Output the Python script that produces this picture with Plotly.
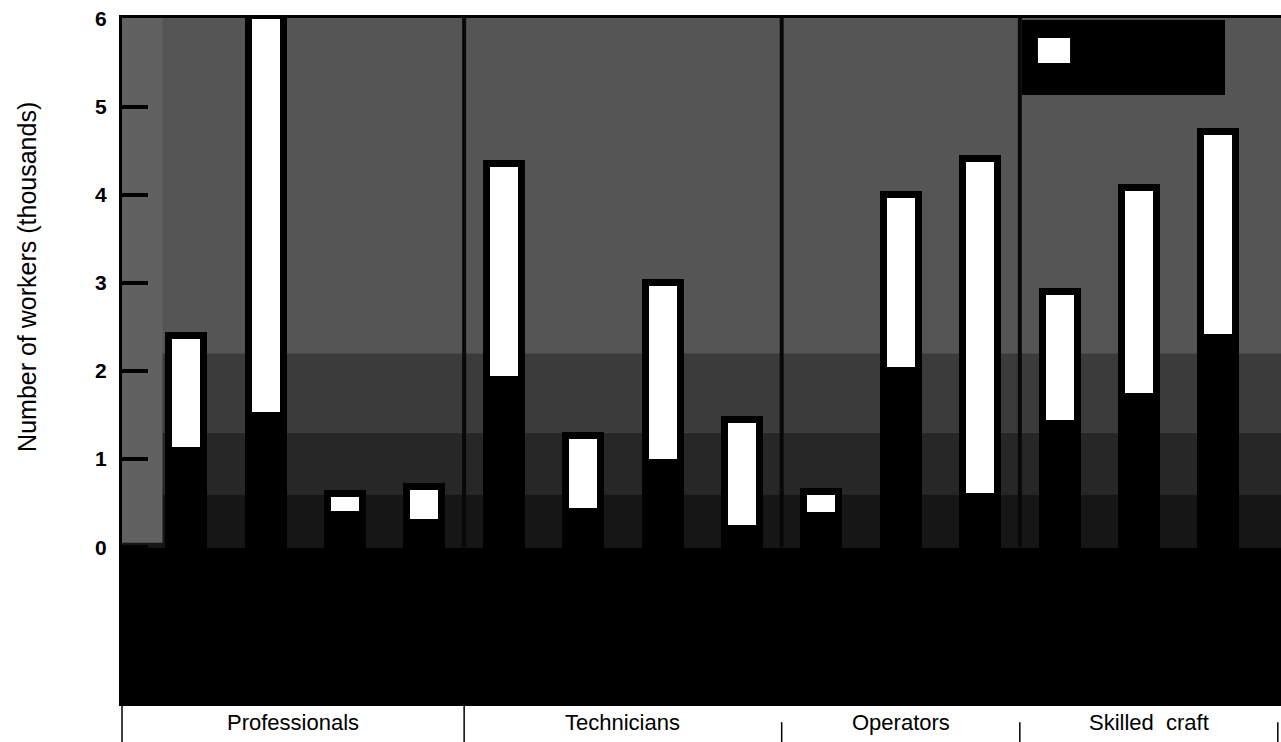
import plotly.graph_objects as go

# categories / groups along the bottom
groups = ["Professionals", "Technicians", "Operators", "Skilled\u00a0 craft"]
group_sizes = [4, 4, 3, 3]

# per bar values, thousands of workers
low = [1.14, 1.54, 0.41, 0.32, 1.94, 0.44, 1.00, 0.25, 0.40, 2.05, 0.62, 1.44, 1.75, 2.42]
high = [2.36, 6.00, 0.57, 0.65, 4.32, 1.23, 2.97, 1.41, 0.59, 3.97, 4.37, 2.86, 4.05, 4.68]

y_ticks = [0, 1, 2, 3, 4, 5, 6]

# axis windows
X_MIN, X_MAX = -0.81, 13.79
Y_MIN, Y_MAX = -1.77, 6.01
X_END = 13.75  # last divider in the label strip

x_pos = list(range(len(low)))
span = [h - l for h, l in zip(high, low)]

# group boundaries
edges = []
c = 0
for n in group_sizes[:-1]:
    c += n
    edges.append(c - 0.5)
bounds = [X_MIN] + edges + [X_END]
centers = [(bounds[i] + bounds[i + 1]) / 2 for i in range(len(groups))]

FONT = "Liberation Sans, Arial, sans-serif"

fig = go.Figure()

# black base columns (the thick line gives the black frame round the white part)
fig.add_trace(go.Bar(
    x=x_pos, y=high, base=0, width=0.353,
    marker=dict(color="black", line=dict(color="black", width=14)),
    showlegend=False, hoverinfo="skip",
))
# white top segment
fig.add_trace(go.Bar(
    x=x_pos, y=span, base=low, width=0.353,
    marker=dict(color="white", line=dict(width=0)),
    showlegend=False,
))

shapes = []
# dark background bands (scan gets darker toward zero)
bands = [
    (Y_MIN, 0, "black"),
    (0, 0.6, "#161616"),
    (0.6, 1.3, "#272727"),
    (1.3, 2.2, "#3b3b3b"),
]
for y0, y1, col in bands:
    shapes.append(dict(type="rect", xref="paper", yref="y", x0=0, x1=1, y0=y0, y1=y1,
                       fillcolor=col, line=dict(width=0), layer="below"))
# lighter strip next to the axis
shapes.append(dict(type="rect", xref="x", yref="y", x0=X_MIN, x1=-0.3, y0=0.05, y1=Y_MAX,
                   fillcolor="#616161", line=dict(width=0), layer="below"))

# group dividers inside the plot
for e in edges:
    shapes.append(dict(type="line", xref="x", yref="y", x0=e, x1=e, y0=0, y1=Y_MAX,
                       line=dict(color="#080808", width=4), layer="below"))

# dividers in the label strip
shapes.append(dict(type="line", xref="paper", yref="paper", x0=0, x1=0, y0=0, y1=-0.057,
                   line=dict(color="black", width=1.5)))
shapes.append(dict(type="line", xref="x", yref="paper", x0=edges[0], x1=edges[0], y0=0, y1=-0.057,
                   line=dict(color="black", width=1.5)))
for e in edges[1:] + [X_END]:
    shapes.append(dict(type="line", xref="x", yref="paper", x0=e, x1=e, y0=-0.028, y1=-0.057,
                       line=dict(color="black", width=1.5)))

# legend block (top right)
shapes.append(dict(type="rect", xref="paper", yref="paper", x0=0.7765, x1=0.9517, y0=0.8876, y1=0.997,
                   fillcolor="black", line=dict(width=0)))
shapes.append(dict(type="rect", xref="paper", yref="paper", x0=0.7903, x1=0.8180, y0=0.9343, y1=0.9708,
                   fillcolor="white", line=dict(width=0)))
shapes.append(dict(type="rect", xref="paper", yref="paper", x0=0.7903, x1=0.8180, y0=0.8920, y1=0.9285,
                   fillcolor="black", line=dict(width=0)))

annotations = []
for name, cx in zip(groups, centers):
    annotations.append(dict(x=cx, y=-0.029, xref="x", yref="paper", text=name, showarrow=False,
                            xanchor="center", yanchor="middle",
                            font=dict(family=FONT, size=22, color="black")))

annotations.append(dict(x=-0.082, y=0.622, xref="paper", yref="paper",
                        text="Number of workers (thousands)", textangle=-90, showarrow=False,
                        xanchor="center", yanchor="middle",
                        font=dict(family=FONT, size=25, color="black")))

fig.update_layout(
    width=1281, height=742,
    margin=dict(l=122, r=0, t=18, b=39),
    paper_bgcolor="white",
    plot_bgcolor="#555555",
    barmode="overlay",
    bargap=0,
    shapes=shapes,
    annotations=annotations,
    xaxis=dict(range=[X_MIN, X_MAX], showticklabels=False, ticks="", showgrid=False,
               zeroline=False, showline=True, mirror=True, linecolor="black", linewidth=3),
    yaxis=dict(range=[Y_MIN, Y_MAX], tickvals=y_ticks, ticktext=[str(t) for t in y_ticks],
               ticks="inside", ticklen=26, tickwidth=4, tickcolor="black",
               showgrid=False, zeroline=False, showline=True, linecolor="black", linewidth=3,
               ticklabelstandoff=8,
               tickfont=dict(family=FONT, size=21, color="black", weight="bold")),
)

fig.write_html(
    "out.html",
    config={"displayModeBar": False},
    post_script="document.body.style.margin='0';document.body.style.overflow='hidden';",
)
